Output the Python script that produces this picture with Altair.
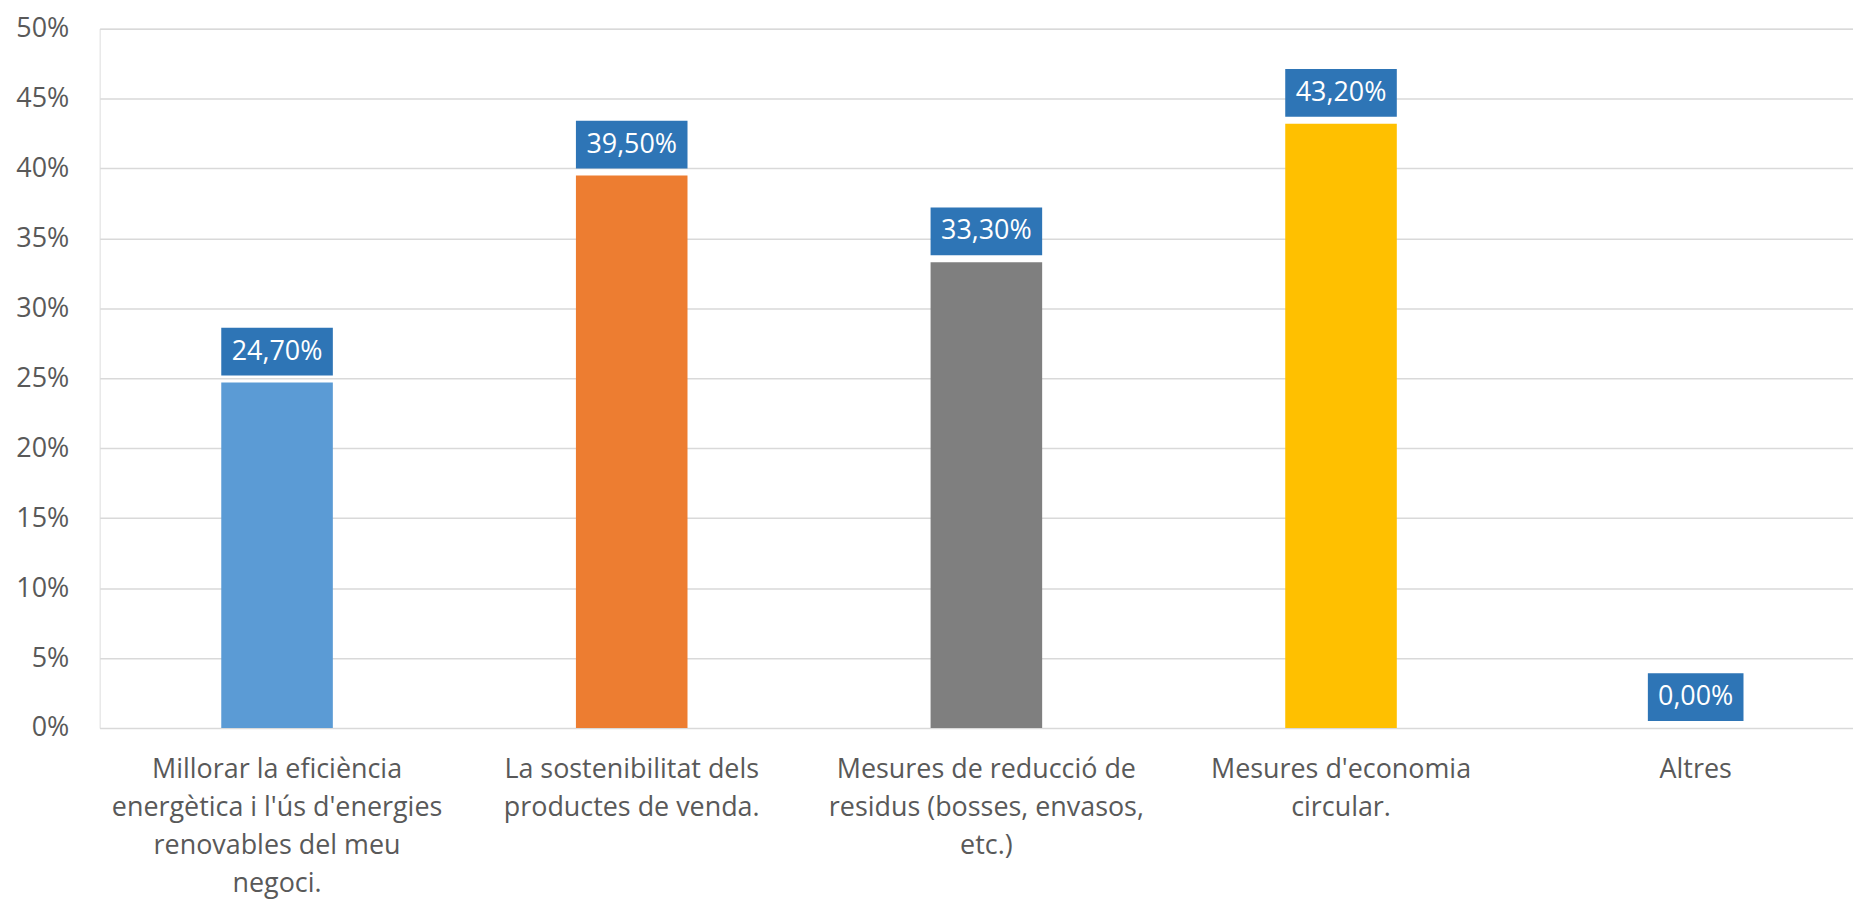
import altair as alt
import pandas as pd

categories = [
    "Millorar la eficiència|energètica i l'ús d'energies|renovables del meu|negoci.",
    "La sostenibilitat dels|productes de venda.",
    "Mesures de reducció de|residus (bosses, envasos,|etc.)",
    "Mesures d'economia|circular.",
    "Altres",
]
values = [0.247, 0.395, 0.333, 0.432, 0.0]
colors = ["#5B9BD5", "#ED7D31", "#7F7F7F", "#FFC000", "#A5A5A5"]
y_ticks = [0, 0.05, 0.10, 0.15, 0.20, 0.25, 0.30, 0.35, 0.40, 0.45, 0.50]

labels = [f"{v*100:.2f}".replace(".", ",") + "%" for v in values]
df = pd.DataFrame({"cat": categories, "value": values, "lbl": labels})

FONT = "Open Sans"

x = alt.X(
    "cat:N",
    sort=categories,
    title=None,
    scale=alt.Scale(paddingInner=0.6854, paddingOuter=0.3146, align=0.545),
    axis=alt.Axis(
        labelExpr="split(datum.label, '|')",
        labelAngle=0,
        labelFont=FONT,
        labelFontSize=27,
        labelColor="#595959",
        labelLineHeight=38,
        labelPadding=29,
        labelLimit=0,
        labelOverlap=False,
        ticks=False,
        domain=False,
        grid=False,
    ),
)
y = alt.Y(
    "value:Q",
    title=None,
    scale=alt.Scale(domain=[0, 0.5]),
    axis=alt.Axis(
        values=y_ticks,
        format=".0%",
        labelFont=FONT,
        labelFontSize=27,
        labelColor="#595959",
        labelPadding=31,
        ticks=False,
        domain=False,
        grid=True,
        gridColor="#D9D9D9",
        gridWidth=1.5,
    ),
)

base = alt.Chart(df)

bars = base.mark_bar().encode(
    x=x,
    y=y,
    color=alt.Color("cat:N", sort=categories,
                    scale=alt.Scale(domain=categories, range=colors), legend=None),
)

boxes = base.mark_bar(
    color="#2E75B6",
    width=alt.ExprRef("length(datum.lbl) * 16 + 16"),
    yOffset=-55,
    y2Offset=-7,
).encode(
    x=alt.X("cat:N", sort=categories),
    y=alt.Y("value:Q"),
    y2=alt.Y2("value"),
)

texts = base.mark_text(
    color="white", font=FONT, fontSize=27, baseline="middle", align="center", dy=-31
).encode(
    x=alt.X("cat:N", sort=categories),
    y=alt.Y("value:Q"),
    text="lbl:N",
)

chart = (
    alt.layer(bars, boxes, texts)
    .properties(
        width=1760,
        height=702,
        autosize=alt.AutoSizeParams(type="none"),
        padding={"left": 92, "top": 19, "right": 0, "bottom": 190},
    )
    .configure_view(stroke=None)
    .configure(background="white")
)

chart.save("out.html", embed_options={"renderer": "svg", "actions": False})
